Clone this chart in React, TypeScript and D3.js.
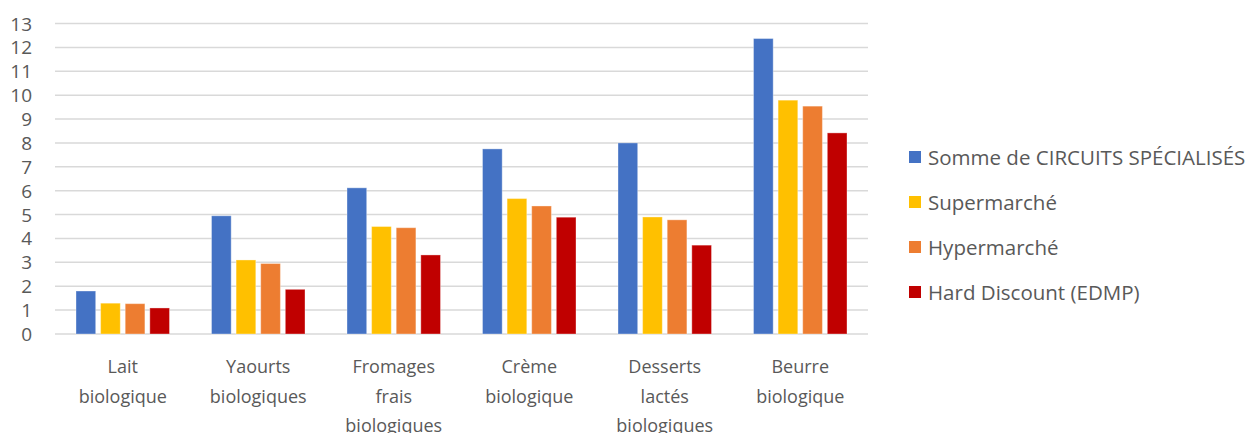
import React from "react";
import * as d3 from "d3";

// Product categories (multi-line labels split on "|")
const categories = [
  "Lait|biologique",
  "Yaourts|biologiques",
  "Fromages|frais|biologiques",
  "Crème|biologique",
  "Desserts|lactés|biologiques",
  "Beurre|biologique",
];

const seriesNames = [
  "Somme de CIRCUITS SPÉCIALISÉS",
  "Supermarché",
  "Hypermarché",
  "Hard Discount (EDMP)",
];

const circuitsSpecialises = [1.8, 4.95, 6.12, 7.75, 8.0, 12.37];
const supermarche = [1.29, 3.1, 4.5, 5.67, 4.9, 9.79];
const hypermarche = [1.27, 2.95, 4.45, 5.36, 4.78, 9.54];
const hardDiscount = [1.09, 1.87, 3.31, 4.89, 3.72, 8.42];

const seriesValues = [circuitsSpecialises, supermarche, hypermarche, hardDiscount];
const seriesColors = ["#4472C4", "#FFC000", "#ED7D31", "#C00000"];

const yTicks = d3.range(0, 14);

const W = 1251;
const H = 433;
const FONT = "'Open Sans', sans-serif";
const TEXT = "#595959";

export default function App() {
  const plotLeft = 55;
  const plotRight = 868;
  const plotTop = 23.5;
  const plotBottom = 334;

  const y = d3.scaleLinear().domain([0, 13]).range([plotBottom, plotTop]);
  const x0 = d3.scaleBand<string>().domain(categories).range([plotLeft, plotRight]).padding(0);
  const inner = 21;
  const x1 = d3
    .scaleBand<number>()
    .domain(d3.range(seriesNames.length))
    .range([inner, x0.bandwidth() - inner])
    .paddingInner(0.2)
    .paddingOuter(0);

  const lineBaselines = [373, 402.5, 432];
  const legendX = 909;
  const legendRows = [157, 202, 247, 292];

  return (
    <svg
      width={W}
      height={H}
      style={{ position: "absolute", left: 0, top: 0, background: "#fff" }}
      fontFamily={FONT}
    >
      {/* gridlines */}
      {yTicks.map((t) => (
        <line
          key={"g" + t}
          x1={plotLeft}
          x2={plotRight}
          y1={y(t)}
          y2={y(t)}
          stroke="#D9D9D9"
          strokeWidth={1.5}
        />
      ))}
      {/* y tick labels */}
      {yTicks.map((t) => (
        <text
          key={"t" + t}
          x={32}
          y={y(t)}
          textAnchor="end"
          dominantBaseline="central"
          fontSize={19}
          fill={TEXT}
        >
          {t}
        </text>
      ))}
      {/* bars */}
      {categories.map((c, ci) => (
        <g key={c} transform={`translate(${x0(c)},0)`}>
          {seriesValues.map((vals, si) => (
            <rect
              key={si}
              x={x1(si)}
              y={y(vals[ci])}
              width={x1.bandwidth()}
              height={y(0) - y(vals[ci])}
              fill={seriesColors[si]}
              stroke="#ffffff"
              strokeOpacity={0.35}
              strokeWidth={1}
            />
          ))}
        </g>
      ))}
      {/* category labels */}
      {categories.map((c) => {
        const cx = (x0(c) as number) + x0.bandwidth() / 2;
        return (
          <text key={"l" + c} textAnchor="middle" fontSize={18} fill={TEXT}>
            {c.split("|").map((line, i) => (
              <tspan key={i} x={cx} y={lineBaselines[i]}>
                {line}
              </tspan>
            ))}
          </text>
        );
      })}
      {/* legend */}
      {seriesNames.map((name, i) => (
        <g key={name}>
          <rect
            x={legendX}
            y={legendRows[i] - 6}
            width={12}
            height={12}
            fill={seriesColors[i]}
          />
          <text
            x={928}
            y={legendRows[i]}
            dominantBaseline="central"
            fontSize={20.5}
            fill={TEXT}
          >
            {name}
          </text>
        </g>
      ))}
    </svg>
  );
}
